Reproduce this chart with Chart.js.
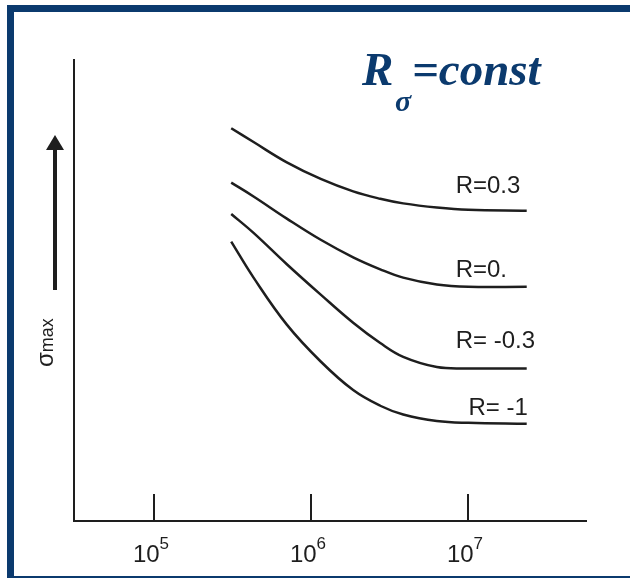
<!DOCTYPE html>
<html>
<head>
<meta charset="utf-8">
<script src="https://cdn.jsdelivr.net/npm/chart.js@4/dist/chart.umd.min.js"></script>
<style>
    html, body { margin: 0; padding: 0; background: #fff; overflow: hidden; }
    .frame { position: absolute; left: 7px; top: 5px; width: 700px; height: 564px; border: 7px solid #0b3a6e; }
    .wrap { position: absolute; left: 0; top: 0; width: 630px; height: 578px; }
</style>
</head>
<body>
<div class="frame"></div>
<div class="wrap"><canvas id="chart" width="630" height="578"></canvas></div>
<script>
// number of cycles (log axis) and sigma_max (arbitrary units 0..100)
const nCycles = [3.1e5, 4.3e5, 7.0e5, 1.15e6, 1.85e6, 2.75e6, 3.85e6, 6.3e6, 1.0e7, 2.35e7];
const sigmaR03 = [85.2, 82.2, 77.8, 74.2, 71.5, 69.9, 68.9, 68.0, 67.5, 67.3];
const sigmaR0 = [73.4, 70.4, 65.6, 61.0, 57.2, 54.6, 52.8, 51.3, 50.8, 50.8];
const sigmaRm03 = [66.6, 62.5, 55.7, 49.1, 43.0, 38.6, 35.6, 33.4, 33.1, 33.1];
const sigmaRm1 = [60.6, 52.8, 42.6, 34.6, 28.4, 25.0, 23.1, 21.7, 21.3, 21.1];
const seriesNames = ['R=0.3', 'R=0.', 'R= -0.3', 'R= -1'];
const tickValues = [1e5, 1e6, 1e7];
const tickExponents = ['5', '6', '7'];

const lineColor = '#1e1e1e';
const navy = '#0b3a6e';

// where each curve label sits, in data units
const labelAnchors = [
    {x: 8.3e6, y: 71.1},
    {x: 8.3e6, y: 52.9},
    {x: 8.3e6, y: 37.5},
    {x: 1.0e7, y: 23.0}
];

const ctx = document.getElementById('chart').getContext('2d');

const figurePlugin = {
    id: 'figure',
    afterDraw(chart) {
        const c = chart.ctx;
        const xs = chart.scales.x;
        const ys = chart.scales.y;
        const bottom = chart.chartArea.bottom;
        c.save();
        c.fillStyle = lineColor;
        c.strokeStyle = lineColor;

        // inward tick marks and 10^n labels
        c.lineWidth = 2;
        tickValues.forEach(function(v, i) {
            const px = Math.round(xs.getPixelForValue(v));
            c.beginPath();
            c.moveTo(px, bottom);
            c.lineTo(px, bottom - 27);
            c.stroke();

            c.font = '24px "Liberation Sans"';
            const w10 = c.measureText('10').width;
            c.font = '17px "Liberation Sans"';
            const wExp = c.measureText(tickExponents[i]).width;
            const left = px - 3 - (w10 + wExp) / 2;
            c.textBaseline = 'alphabetic';
            c.textAlign = 'left';
            c.font = '24px "Liberation Sans"';
            c.fillText('10', left, bottom + 41);
            c.font = '17px "Liberation Sans"';
            c.fillText(tickExponents[i], left + w10, bottom + 28);
        });

        // curve labels
        c.font = '24px "Liberation Sans"';
        c.textAlign = 'left';
        seriesNames.forEach(function(name, i) {
            c.fillText(name, xs.getPixelForValue(labelAnchors[i].x), ys.getPixelForValue(labelAnchors[i].y));
        });

        // y axis label, rotated
        c.save();
        c.translate(53, 367);
        c.rotate(-Math.PI / 2);
        c.font = '24px "Liberation Sans"';
        c.fillText('σ', 0, 0);
        const ws = c.measureText('σ').width;
        c.font = '18px "Liberation Sans"';
        c.fillText('max', ws, 0);
        c.restore();

        // arrow
        c.lineWidth = 4;
        c.beginPath();
        c.moveTo(55, 290);
        c.lineTo(55, 147);
        c.stroke();
        c.beginPath();
        c.moveTo(55, 135);
        c.lineTo(46, 150);
        c.lineTo(64, 150);
        c.closePath();
        c.fill();

        // title R_sigma = const
        c.fillStyle = navy;
        c.font = 'italic bold 47px "Liberation Serif"';
        c.fillText('R', 362, 85);
        c.font = 'italic bold 30px "Liberation Serif"';
        c.fillText('σ', 395, 111);
        c.font = 'italic bold 47px "Liberation Serif"';
        c.fillText('=const', 412, 85);
        c.restore();
    }
};

function makeDataset(values, name) {
    return {
        label: name,
        data: values,
        borderColor: lineColor,
        borderWidth: 2.5,
        pointRadius: 0,
        fill: false,
        tension: 0.4
    };
}

const chart = new Chart(ctx, {
    type: 'line',
    data: {
        labels: nCycles,
        datasets: [
            makeDataset(sigmaR03, seriesNames[0]),
            makeDataset(sigmaR0, seriesNames[1]),
            makeDataset(sigmaRm03, seriesNames[2]),
            makeDataset(sigmaRm1, seriesNames[3])
        ]
    },
    options: {
        responsive: false,
        animation: false,
        layout: {
            padding: {left: 74, right: 44, top: 60, bottom: 57}
        },
        plugins: {
            legend: {display: false},
            tooltip: {enabled: false}
        },
        scales: {
            x: {
                type: 'logarithmic',
                min: 3.1e4,
                max: 5.6e7,
                grid: {display: false, drawTicks: false},
                ticks: {display: false},
                border: {display: true, color: lineColor, width: 2},
                afterFit: function(scale) { scale.height = 0; }
            },
            y: {
                min: 0,
                max: 100,
                grid: {display: false, drawTicks: false},
                ticks: {display: false},
                border: {display: true, color: lineColor, width: 2},
                afterFit: function(scale) { scale.width = 0; }
            }
        }
    },
    plugins: [figurePlugin]
});
</script>
</body>
</html>
